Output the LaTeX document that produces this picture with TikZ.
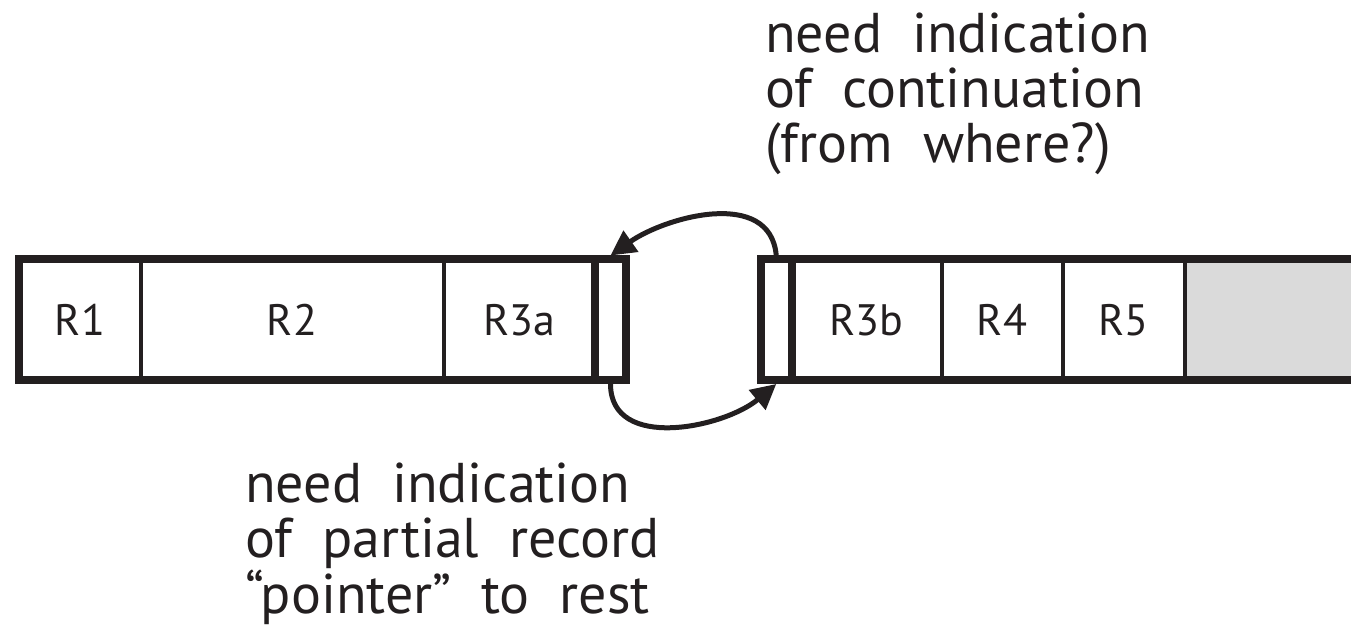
\documentclass[tikz,border=0pt]{standalone}
\usepackage{fontspec}
\setmainfont{PT Sans}
\newfontfamily\notefont{PT Sans}[WordSpace=2]
\usetikzlibrary{arrows.meta}
\definecolor{ink}{HTML}{231F20}
\definecolor{pad}{HTML}{DADADA}
\tikzset{
  cell/.style={draw=ink, line width=4bp, inner sep=0pt, outer sep=0pt,
    minimum height=120.5bp, text=ink, font=\fontsize{44bp}{50bp}\selectfont},
  slim/.style={draw=ink, line width=8bp, inner sep=0pt,
    minimum height=120.5bp, minimum width=31.5bp},
  border/.style={draw=ink, line width=8bp},
  conn/.style={draw=ink, line width=5bp, -{Triangle[length=25bp,width=25bp]}},
  note/.style={text=ink, align=left, inner sep=0pt, anchor=base west,
    font=\notefont\fontsize{56bp}{55.3bp}\selectfont}
}
\begin{document}
\begin{tikzpicture}[x=1bp,y=1bp]
\useasboundingbox (0,0) rectangle (1351,642);
% left piece
\node[cell, minimum width=121bp] (r1) at (80,322.25) {R1};
\node[cell, minimum width=303bp] (r2) at (292,322.25) {R2};
\node[cell, minimum width=151.5bp] (r3a) at (519.25,322.25) {R3a};
\draw[border] (r1.north west) rectangle (r3a.south east);
\node[slim] (slimL) at (610.5,322.25) {};
% right piece
\node[slim] (slimR) at (776.25,322.25) {};
\node[cell, minimum width=149.5bp] (r3b) at (866.75,322.25) {R3b};
\node[cell, minimum width=121bp] (r4) at (1002,322.25) {R4};
\node[cell, minimum width=122bp] (r5) at (1123.5,322.25) {R5};
\node[cell, fill=pad, minimum width=200bp] (free) at (1284.5,322.25) {};
\draw[border] (r3b.north west) rectangle (free.south east);
% connectors
\draw[conn] (slimR.north) to[out=95,in=35,looseness=1.05] (slimL.north);
\draw[conn] (slimL.south) to[out=-90,in=-140,looseness=1.05] (slimR.south);
% notes
\node[note] (top) at (765,479)
  {need indication\\of continuation\\(from where?)};
\node[note] (bot) at (245,28.7)
  {need indication\\of partial record\\“pointer” to rest};
\end{tikzpicture}
\end{document}
